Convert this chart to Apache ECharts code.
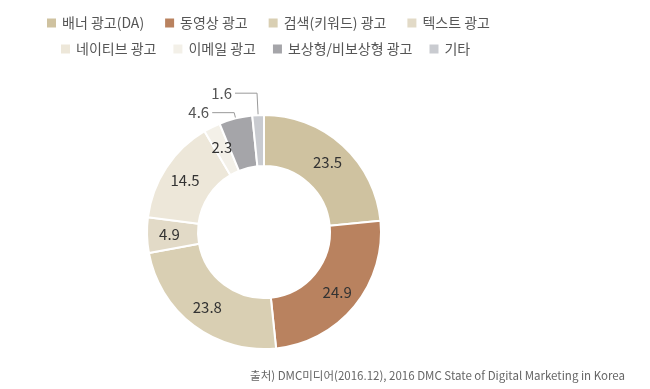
<!DOCTYPE html>
<html><head><meta charset="utf-8">
<script src="https://cdn.jsdelivr.net/npm/echarts@6/dist/echarts.min.js"></script>
<style>html,body{margin:0;padding:0;background:#fff}#c{width:650px;height:389px}</style>
</head><body><div id="c"></div>
<script>
const categories = ['배너 광고(DA)','동영상 광고','검색(키워드) 광고','텍스트 광고','네이티브 광고','이메일 광고','보상형/비보상형 광고','기타'];
const values = [23.5, 24.9, 23.8, 4.9, 14.5, 2.3, 4.6, 1.6];
const colors = ['#cfc2a0','#b9825f','#d9cfb3','#e2dac7','#ede7d9','#f3f0e8','#a5a5a9','#c9cbd0'];
const outsideLabels = ['보상형/비보상형 광고','기타'];
const legendRow1 = categories.slice(0,4);
const legendRow2 = categories.slice(4);
const sourceText = '출처) DMC미디어(2016.12), 2016 DMC State of Digital Marketing in Korea';

const font = '"Noto Sans CJK KR", "Noto Sans", sans-serif';
const chart = echarts.init(document.getElementById('c'));
const lineLen = {'보상형/비보상형 광고':[6,22], '기타':[22,22]};
const data = categories.map((n,i)=>{
  const d = {name:n, value:values[i], itemStyle:{color:colors[i]}};
  if (outsideLabels.includes(n)) {
    d.label = {position:'outside', color:'#555', fontSize:15, distanceToLabelLine:3};
    d.labelLine = {show:true, length:lineLen[n][0], length2:lineLen[n][1], lineStyle:{color:'#999', width:1}};
  }
  return d;
});
const legendCommon = {icon:'rect', itemWidth:11, itemHeight:11, textStyle:{fontFamily:font, fontSize:14, color:'#555'}, selectedMode:false};
chart.setOption({
  animation:false,
  legend:[
    Object.assign({data:legendRow1, left:40, top:11, itemGap:19}, legendCommon),
    Object.assign({data:legendRow2, left:54, top:37, itemGap:15}, legendCommon)
  ],
  title:{text:sourceText, right:20, bottom:3, textStyle:{fontFamily:font, fontSize:11.5, fontWeight:'normal', color:'#666'}},
  series:[{
    type:'pie', center:[264,232], radius:[66,117], startAngle:90, clockwise:true,
    avoidLabelOverlap:false,
    itemStyle:{borderColor:'#fff', borderWidth:2},
    label:{show:true, position:'inside', formatter:'{c}', color:'#333', fontSize:15, fontFamily:font},
    labelLine:{show:false},
    data:data
  }]
});
</script></body></html>
